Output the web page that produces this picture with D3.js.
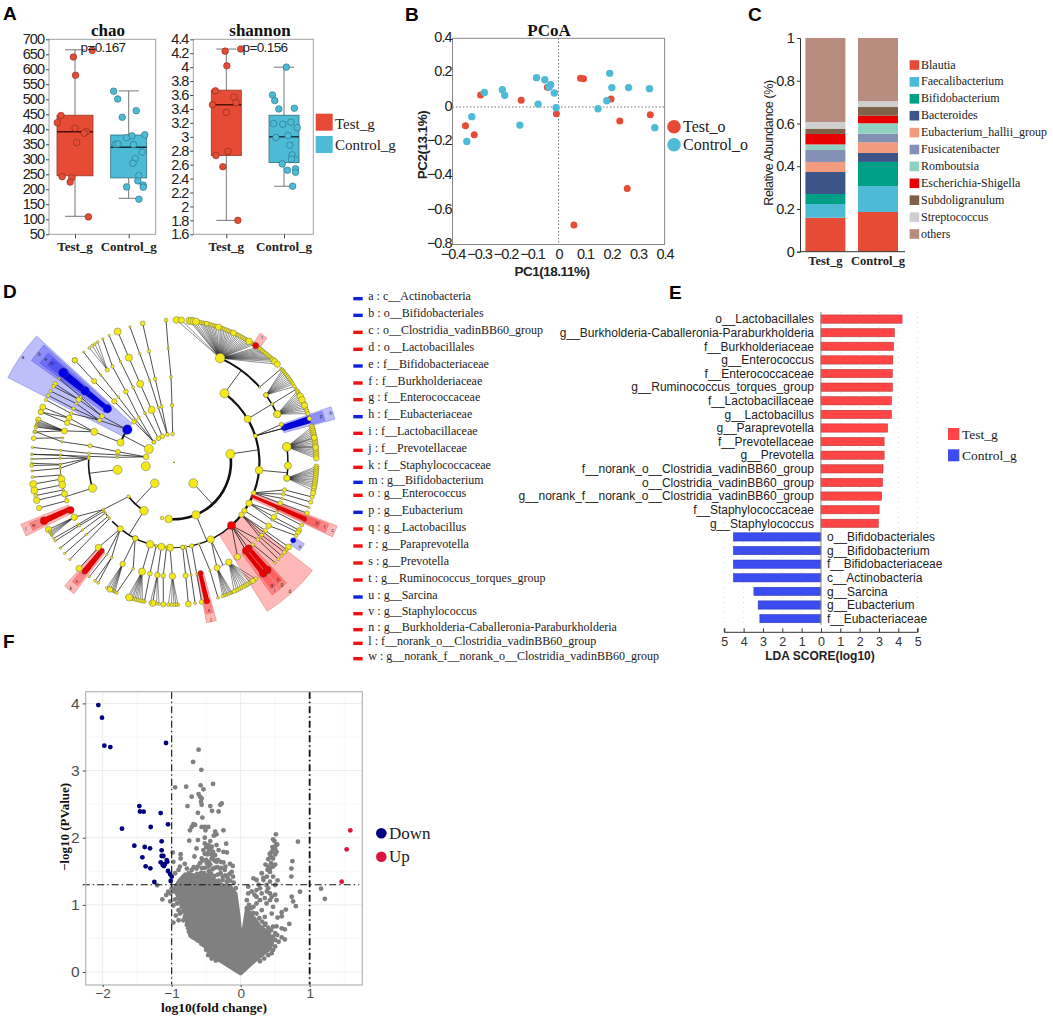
<!DOCTYPE html>
<html><head><meta charset="utf-8">
<script src="https://cdn.jsdelivr.net/npm/d3@7/dist/d3.min.js"></script>
<style>html,body{margin:0;padding:0;background:#fff}svg{display:block}</style>
</head><body><svg id="c" width="1053" height="1016"></svg>
<script>
// ---------- Panel A
const groups = ["Test_g","Control_g"];
const chaoTicks = [50,100,150,200,250,300,350,400,450,500,550,600,650,700];
const shannonTicks = [1.6,1.8,2,2.2,2.4,2.6,2.8,3,3.2,3.4,3.6,3.8,4,4.2,4.4];
const chaoBox = [[110,245,392,447,665],[170,238,340,381,528]];
const shannonBox = [[1.80,2.73,3.46,3.67,4.26],[2.29,2.63,3.0,3.31,4.0]];
const chaoTest = [[-.03,641],[.01,580],[.32,663],[-.26,446],[-.33,422],[0,404],[.21,392],[.17,387],[.03,356],[-.24,242],[-.06,239],[-.09,224],[.25,108]];
const chaoControl = [[-.28,527],[-.205,501],[.14,462],[-.12,440],[.3,382],[.06,378],[-.04,372],[-.25,350],[-.2,351],[.09,349],[.25,324],[.12,302],[.08,287],[.19,246],[.17,228],[.27,214],[-.04,208],[.27,207],[.19,167]];
const shannonTest = [[-.02,4.23],[.25,4.26],[.01,4.02],[-.19,3.66],[.13,3.57],[.17,3.49],[-.24,3.46],[0,3.35],[.03,2.79],[-.18,2.73],[-.06,2.57],[.2,1.80]];
const shannonControl = [[.04,4.0],[-.2,3.6],[-.16,3.52],[-.09,3.40],[.18,3.41],[-.18,3.19],[-.02,3.18],[.12,3.21],[.23,3.13],[-.14,2.99],[.07,3.02],[.1,2.88],[.14,2.74],[.2,2.67],[.13,2.68],[-.03,2.61],[.06,2.52],[.2,2.54],[.2,2.49],[.15,2.29]];
// ---------- Panel B
const pcoaTicksX = [-.4,-.3,-.2,-.1,0,.1,.2,.3,.4];
const pcoaTicksY = [-.8,-.6,-.4,-.2,0,.2,.4];
const pcoaTest = [[-.294,.07],[-.141,.039],[-.042,.115],[-.008,-.039],[.083,.167],[.094,.165],[.198,.047],[.231,-.082],[.346,-.045],[.259,-.474],[.058,-.687],[-.351,-.109],[-.318,-.161]];
const pcoaControl = [[-.28,.085],[-.212,.101],[-.203,.068],[-.083,.171],[-.052,.159],[-.03,.13],[-.036,.117],[-.016,.082],[-.077,.017],[-.009,-.004],[-.146,-.105],[-.327,-.056],[-.346,-.2],[.193,.196],[.201,.113],[.264,.113],[.343,.107],[.182,.037],[.149,-.01],[.363,-.12]];
// ---------- Panel C
const genera = ["Blautia","Faecalibacterium","Bifidobacterium","Bacteroides","Eubacterium_hallii_group","Fusicatenibacter","Romboutsia","Escherichia-Shigella","Subdoligranulum","Streptococcus","others"];
const generaColors = ["#E64B35","#4DBBD5","#00A087","#3C5488","#F39B7F","#8491B4","#91D1C2","#E60000","#7E6148","#CFCFCF","#B98C80"];
const abundTest = [.159,.064,.047,.103,.047,.056,.026,.049,.025,.031,.393];
const abundControl = [.186,.121,.113,.042,.05,.04,.049,.035,.041,.028,.295];
const abundTicks = [0,.2,.4,.6,.8,1];
// ---------- Panel D
const cladeLegend = [["a : c__Actinobacteria",0],["b : o__Bifidobacteriales",0],["c : o__Clostridia_vadinBB60_group",1],["d : o__Lactobacillales",1],["e : f__Bifidobacteriaceae",0],["f : f__Burkholderiaceae",1],["g : f__Enterococcaceae",1],["h : f__Eubacteriaceae",0],["i : f__Lactobacillaceae",1],["j : f__Prevotellaceae",1],["k : f__Staphylococcaceae",1],["m : g__Bifidobacterium",0],["o : g__Enterococcus",1],["p : g__Eubacterium",0],["q : g__Lactobacillus",1],["r : g__Paraprevotella",1],["s : g__Prevotella",1],["t : g__Ruminococcus_torques_group",1],["u : g__Sarcina",0],["v : g__Staphylococcus",1],["n : g__Burkholderia-Caballeronia-Paraburkholderia",1],["l : f__norank_o__Clostridia_vadinBB60_group",1],["w : g__norank_f__norank_o__Clostridia_vadinBB60_group",1]];
const cladeLegendRows = [35,85,136,187,237,288,338,389,439,490,541,586,625,676,726,777,828,879,930,980,1028,1069,1115];
const cladeSectors = [["a",297,312.6,2,6.55,0],["b",305.5,312,3,6.15,0],["e",306.5,311,4,5.85,0],["m",307.5,310.5,5,5.6,0],
["d",128,148,3,6.17,1],["g",137,139.9,4,5.8,1],["i",140.1,143.5,4,5.8,1],["o",137.5,139.5,5,5.6,1],["q",140.5,142.5,5,5.6,1],
["c",111.3,115.2,3,6.15,1],["f",111.8,114.8,4,5.85,1],["n",112.2,114.4,5,5.55,1],
["h",70.5,75,4,5.85,0],["p",71,74.5,5,5.5,0],["u",122,125.2,5,5.4,0],["t",33.7,36.8,5,5.45,1],
["j",165,168.5,4,5.75,1],["s",165.5,168,5,5.45,1],["k",217.3,221.5,4,5.8,1],["v",218,220.5,5,5.5,1],["l",243.5,248,4,5.8,1],["w",244.3,247.2,5,5.5,1]];
const cladeCores = [[307.2,310.3,3.05,5,0],[71,74,4,5,0],[112.4,114.3,3,5,1],[138,140,4,5,1],[140.3,142.3,4,5,1],[165.7,167.7,4,5,1],[218,220.5,4,5,1],[244.5,247,4,5,1]];
const cladeArcs = [[2,81.6,185.4,2.6],[2,211.8,233,1.8],[2,290.4,305,1.8],[3,36.2,137.7,2.2],[3,137.7,168,1.5],[3,168,196.3,.9],[3,196.3,226.4,1.6],[3,252.4,272.7,1.6],[3,230.7,236.3,.8],[4,23.9,48.7,2],[4,53.8,65,1.6],[4,82.2,98,1.5],[4,151.2,157.8,.5],[4,250.3,268.7,.6]];
const cladeStems = [[1,2,137.4],[2,3,81.6],[1,2,222.6],[1,2,297.8],[2,3,157.3],[2,3,262.6],[3,4,36.2],[3,4,95.3],[2,3,211.8],[3,4,252.4],[3,4,154.5]];
const cladeChains = [
[1,357.3,1.6,2,358,1.5,3,358,1.2,4,357.1,1,5,356.8,1.6],[1,346.6,1.6,2,347.5,1.4,3,347.3,1.5,4,347.3,1.5,5,347.3,2],
[1,346.6,0,2,344,1,3,343.5,1,4,342.5,1,5,342,1],[1,335.8,2,2,336.9,3,3,336.7,3,4,336.7,3,5,336.7,3],
[1,326.9,2,2,329.4,1.2,3,331.4,1.2,4,332,1,5,332.9,1],[1,315,1.6,2,322,1.2,3,325.8,2,4,327.3,1.5,5,330,1],
[1,315,1.6,2,315.5,2,3,315.6,2.2,4,315.5,2.2,5,315.8,2.2],[1,315,0,2,318,1,3,319.5,1,4,320,1,5,320.7,1],
[2,290.4,3,3,290.9,3,4,290.3,2.3,5,290.7,2.2],[2,305,0,3,302.6,2,4,303.4,2.2,5,303.4,2],[2,305,0,3,299.4,1.8,4,298.2,1.5,5,298,1.5],[3,299.4,0,4,295.4,1.5,5,296,1.5],
[3,302.6,0,4,305,1.2,5,306.2,1],[4,303.4,0,5,302.2,1.6],[3,299.4,0,4,301,1.2,5,300,1.4],
[3,290.9,0,4,292.9,2.5,5,292.8,2.5],[4,292.9,0,5,290.7,2.2],[3,290.9,0,4,286,2.5,5,287.5,2.2],[4,286,0,5,284.4,1.8],[4,286,0,5,282.3,1.8],[4,282.4,1,5,279.7,2],
[1,281,2.4,2,280.7,2,3,281.1,1.8,4,280.4,1,5,282.5,1],[1,281,0,2,277.5,1,3,276,1.2,4,276,1,5,276,1],[1,281,0,2,275,1,3,274,1,5,273.2,1],
[3,272.7,1.2,4,273.7,1,5,273.2,1],[3,272.7,0,4,272,1,5,271.3,1],[3,272.7,0,4,269,1,5,269.6,1],[3,272.7,0,4,267,1,5,266.5,1],
[4,268.7,1,5,268.7,1.6],[4,263.6,1,5,264,1.2],[4,261.5,3,5,261.2,3],[4,258.6,3,5,258.6,3],[4,256,1,5,256.5,1.5],[4,253.9,2.6,5,254.5,2.7],[4,250.3,2,5,251.3,2.3],
[2,233,0,3,236.3,1,4,237,1.2,5,237.7,1],[3,235,1,4,236.2,1.2,5,236.5,1],[3,233.5,1,4,233.5,1,5,233,1],[3,230.7,1,4,230.5,1,5,230.2,1],[3,229,1,5,227,1],[3,236.3,0,4,241.2,2.7,5,241.8,2.7],
[3,218.9,2.5,4,221.6,2.7,5,221.8,2.7],[3,218.9,0,4,216,1,5,216.5,1],[3,218.9,0,4,213.2,1.2,5,212.2,1.2],[4,213.2,0,5,213.7,1.2],[3,207,2.3,4,206.8,2.3],[3,207,0,4,201,1.2,5,203.7,1.4],
[3,196.3,3.2,4,196.3,3],[3,192,1.2,4,192.2,2,5,192,1.5],[3,188.5,3,4,188.4,2.3,5,188.6,2.8],[3,182.7,3,4,180.8,2.7],[3,185,1,4,185.4,2,5,184.3,2.2],
[3,174.2,1.8,4,174.1,2.2,5,174.2,2.4],[3,172.2,1.2,4,171.4,1,5,171.5,1.2],[3,168,1.8,4,168.5,1,5,168.8,2],[3,163,1,4,161.6,1,5,162,1.2],[3,154.5,3,4,157.8,2.6],
[3,137.7,0,4,146.1,2.6],[3,137.7,0,4,136.2,1.5,5,134.8,1.2],[3,137.7,0,4,132.6,1.5,5,132.9,1.3],
[3,111,2,4,106.2,1.5,5,106.2,1.8],[3,111,0,4,104,1.8,5,104.1,1.8],[3,111,0,4,108.5,1,5,108.5,1],[3,111,0,4,111,2,5,110.9,2],
[3,118.6,2.7,4,116,1.2,5,116.2,1.6],[3,118.6,0,4,118.7,2.4,5,118.5,2.2],[3,118.6,0,4,120.5,1,5,119.5,2],[3,124.5,2.3,4,123.8,2.3,5,121,1.6],
[3,127.8,2.3,4,126.8,2,5,126.5,2.5],[3,127.8,0,4,129.7,1.6,5,129.1,1.8],[3,127.8,0,4,128,1,5,127.8,1.2],[3,127.8,0,4,131,1,5,131,1.3],
[4,48.7,1,5,48.9,1.2],[3,59.5,3,4,59.3,1.3,5,59.1,1.3],[3,72,1.7,4,70.6,1.8],[3,72,0,4,72.7,0,5,72.1,2]];
const cladeRed = [[3,137.7,3.4],[4,139.1,3],[4,140.9,3],[5,139.1,3.3],[5,141.2,3.3],[3,113.4,1.3],[4,113.7,1.8],[5,113.5,2],[4,166.5,2.2],[5,166.7,2.5],[4,219.2,2],[5,219.3,1.5],[4,245.2,3],[5,245.8,3.3],[5,35,2.6]];
const cladeBlue = [[2,305,4],[3,308.8,3.6],[4,308.8,3.6],[5,309,4],[4,72.7,1.5],[5,123.2,2.2]];
const cladeFans = [
[4,23.9,4,1.7,[1,3,6.2,7,7.9,8.9,10.1,11,11.8,12.5,13.3,14,14.8,15.6,16.4,17.2,18.2,19,19.8,20.6,21.4,22.2,23,23.8,24.7,25.5,26.3,27,27.8,28.6,29.4,30.2,31,31.8,32.6,33.4,34.2,36,36.8,37.6,38.4,39.2,40,40.8,41.6,42.4,43.2,44,45,46.5]],
[4,53.8,2,1.5,[49.5,50.2,51,51.8,52.6,53.4,54.2,55,55.8,56.6,57.8]],
[4,65,3,1.8,[60,60.8,61.6,62.4,63.2,64,64.8,65.6,66.4,67.2,68,69,70]],
[4,82.2,3.6,2.3,[75.6,76.4,77.2,78,78.8,79.6,80.4,81.2,82,82.8,83.6,84.4,85.2,86,86.8,87.6,88.4]],
[4,98,2.6,2.1,[91.7,92.5,93.3,94,94.8,95.6,96.4,97.2,98,98.8,99.6,100.4,101.5]],
[4,157.8,0,1.3,[156,156.6,157.2,158,158.6,159.3,160]],
[4,151.2,2.7,1.8,[145,146.4,147.5,148.6,149.3,150.1,151,152,153,153.9,155]],
[4,196.3,0,1.6,[192.8,193.6,194.5,195.3,196,196.8,197.4,198.3,199]],
[4,206.8,0,1.1,[204.5,205,205.5,206,206.7,207.5,208.2]],
[4,188.4,0,1.2,[186,187,189.6]],[4,180.8,0,1.5,[178.4,179.2,180,181,182.3]],
[4,241.2,0,1,[239,239.5,240,240.5,241]],[4,286,0,1,[284.8,285.2,285.6,286,286.4,286.8]],[4,324.2,1.8,1.2,[327.6,326.2,325,323.5]],[4,82.2,0,2.4,[80,84]]];
const cladeTips = [[5,1,2.8],[5,3,2.6],[5,6.2,3],[5,7,3],[5,7.9,3],[5,8.9,3],[5,13.3,2],[5,18.2,2.6],[5,24.7,2.5],[5,31.8,2.8],[5,44,2.4],[5,45,2.6],[5,46.5,2.6],[5,62.4,2.8],[5,64,2.8],[5,66.4,2.6],[5,102.5,2.2],[5,198.3,3],[5,206.7,2.3],[5,146.4,2.2],[5,315.8,2.2],[2,81.6,3.8],[2,157.3,3.4],[2,185.4,3.2],[2,192.2,1.5],[1,137.4,3.8],[1,222.6,3.6],[1,262,3.8],[1,297.8,3.8],[2,262.4,3.8],[2,211.8,3.6],[2,233,1.5],[3,36.2,3.8],[3,95.3,3.2],[3,252.4,3.5],[3,207,2.3],[4,91.7,3],[4,82.2,3.6],[4,98,2.6],[4,65,3],[4,53.8,2],[3,174.2,1.8]];
// ---------- Panel E
const ldaTaxa = ["o__Lactobacillales","g__Burkholderia-Caballeronia-Paraburkholderia","f__Burkholderiaceae","g__Enterococcus","f__Enterococcaceae","g__Ruminococcus_torques_group","f__Lactobacillaceae","g__Lactobacillus","g__Paraprevotella","f__Prevotellaceae","g__Prevotella","f__norank_o__Clostridia_vadinBB60_group","o__Clostridia_vadinBB60_group","g__norank_f__norank_o__Clostridia_vadinBB60_group","f__Staphylococcaceae","g__Staphylococcus","o__Bifidobacteriales","g__Bifidobacterium","f__Bifidobacteriaceae","c__Actinobacteria","g__Sarcina","g__Eubacterium","f__Eubacteriaceae"];
const ldaScores = [4.2,3.8,3.76,3.72,3.7,3.7,3.65,3.65,3.45,3.27,3.27,3.21,3.19,3.14,3.01,2.97,-4.53,-4.53,-4.53,-4.53,-3.47,-3.25,-3.16];
const ldaTicks = [-5,-4,-3,-2,-1,0,1,2,3,4,5];
// ---------- Panel F
const volcDown = [[-2.063,3.975],[-2.01,3.787],[-1.976,3.37],[-1.889,3.35],[-1.082,3.41],[-1.469,2.47],[-1.459,2.39],[-1.406,2.387],[-1.159,2.367],[-1.053,2.199],[-1.72,2.134],[-1.304,2.159],[-1.541,1.881],[-1.391,1.861],[-1.314,1.841],[-1.145,1.945],[-1.145,1.811],[-1.425,1.707],[-1.145,1.727],[-1.121,1.727],[-1.377,1.573],[-1.309,1.543],[-1.159,1.633],[-1.072,1.667],[-1.063,1.643],[-1.097,1.608],[-1.13,1.593],[-1.111,1.578],[-1.053,1.504],[-1.024,1.459],[-1,1.419],[-1.014,1.355],[-1.251,1.34]];
const volcUp = [[1.589,2.109],[1.536,1.826],[1.464,1.345]];
const volcMass = [[0,-.04],[-.3,.155],[-.445,.24],[-.54,.4],[-.735,.525],[-.78,.7],[-.82,.875],[-.88,1.02],[-.975,1.245],[-.9,1.37],[-.83,1.45],[-.64,1.42],[-.49,1.45],[-.4,1.4],[-.25,1.3],[-.155,1.3],[-.06,1.17],[-.02,.87],[.015,.525],[.08,.97],[.23,.775],[.28,.7],[.425,.575],[.47,.43],[.425,.33],[.18,.13],[0,-.04]];
const volcGrey = [[-.61,3.31],[-.69,3.13],[-.57,3.01],[-.4,2.8],[-.58,2.78],[-.54,2.72],[-.95,2.75],[-.79,2.76],[-.71,2.61],[-.61,2.65],[-.59,2.61],[-.565,2.585],[-.575,2.535],[-.565,2.49],[-.77,2.47],[-.44,2.47],[-.415,2.4],[-.32,2.39],[-.275,2.51],[-.295,2.49],[-.62,2.37],[-.555,2.3],[-.685,2.2],[-.71,2.16],[-.735,2.11],[-.66,2.19],[-.565,2.16],[-.52,2.16],[-.47,2.16],[-.51,2.11],[-.25,2.11],[-.37,2.09],[-.35,2.05],[-.39,2.03],[-.52,2],[-.745,1.955],[-.62,1.965],[-.52,1.915],[-.47,1.89],[-.42,1.865],[-.35,1.89],[-.21,1.91],[-.64,1.84],[-.54,1.815],[-.4,1.79],[-.32,1.815],[-.25,1.79],[-.2,1.78],[-.985,1.78],[-.87,1.755],[-.975,1.64],[-.87,1.69],[-.67,1.72],[-.565,1.69],[-.42,1.69],[-.35,1.64],[-.25,1.63],[-.155,1.61],[-.115,1.58],[-.13,1.49],[-.23,1.52],[-.3,1.54],[-.59,1.62],[-.49,1.62],[-.81,1.61],[-.88,1.57],[-.9,1.52],[-.95,1.47],[-.78,1.54],[-.71,1.52],[-.64,1.54],[-.48,1.75],[-.44,1.6],[-.38,1.55],[-.52,1.55],[-.46,1.5],[-.57,1.48],[-.72,1.45],[-.33,1.45],[-.26,1.42],[-.19,1.4],[-.4,1.72],[-.47,1.78],[-.44,1.95],[-.975,.735],[-.94,.84],[-.88,.87],[-.9,.92],[-.855,.97],[-.975,.99],[-.95,1.08],[-1.135,1.08],[-1.08,1.145],[-1.05,1.195],[-1,1.245],[-1.21,1.29],[-1.02,1.17],[-.97,1.2],[-.83,1.07],[-.9,.77],[-.83,.77],[-.79,.92],[-.81,.82],[-.76,.65],[-.73,.55],[-.54,.4],[-.49,.37],[-.42,.24],
[-.5,1.86],[-.46,1.84],[-.43,1.83],[-.52,1.76],[-.44,1.76],[-.37,1.74],[-.55,1.66],[-.5,1.67],[-.46,1.64],[-.38,1.66],[-.33,1.67],[-.29,1.64],[-.68,1.56],[-.62,1.57],[-.56,1.55],[-.47,1.57],[-.41,1.53],[-.34,1.56],[-.28,1.55],[-.22,1.57],[-.8,1.45],[-.75,1.47],[-.69,1.44],[-.63,1.46],[-.58,1.43],[-.53,1.47],[-.48,1.44],[-.43,1.46],[-.38,1.43],[-.29,1.47],[-.22,1.44],[-.16,1.46],[-.11,1.42],[-.85,1.36],[-.74,1.38],[-.62,1.36],[-.5,1.38],[-.44,1.36],[-.32,1.36],[-.26,1.37],[-.2,1.34],[-.15,1.36],[-.1,1.33],[-.07,1.25],[-.93,1.2],[-.88,1.15],[-.85,1.1],[-.84,.9],[-.8,.8],[-.78,.7],[-.75,.6],[-.7,.52],[-.62,.47],[-.57,.42],[-.5,.33],[-.47,.25],[-.42,.2],[-.36,.17],[-1.02,1.05],[-.92,1.02],
[.51,2.05],[.47,1.975],[.51,1.89],[.53,1.9],[.5,1.84],[.47,1.81],[.45,1.79],[.52,1.79],[.435,1.72],[.47,1.69],[.83,1.94],[.75,1.65],[.735,1.54],[.735,1.42],[.4,1.57],[.47,1.57],[.39,1.52],[.305,1.47],[.425,1.49],[.47,1.42],[.535,1.365],[.23,1.37],[.185,1.395],[.33,1.37],[.425,1.345],[.5,1.295],[.375,1.295],[.28,1.245],[.4,1.245],[.11,1.27],[.23,1.22],[.305,1.17],[.23,1.12],[.28,1.07],[.425,1.07],[.52,1.07],[.375,1.02],[.47,.97],[.185,.97],[.09,.95],[.23,.87],[.35,.82],[.45,.87],[.655,.93],[.595,.89],[.535,.81],[.595,.83],[.705,.715],[.64,.635],[.595,.65],[.47,.675],[.47,.525],[.53,.55],[.595,.515],[.64,.485],[.5,.475],[.47,.33],[.4,.43],[.33,.525],[.23,.675],[.18,.77],[.11,.87],[.74,1.12],[.76,1.05],[.8,.98],[.86,1.195],[1.165,1.24],[1.22,1.09],[.11,1.17],[.23,1.02],[.305,.92],[.09,1.07],[.425,1.17],[.35,.7],[.42,.62],[.52,.68],[.3,.6],[.38,.52],
[.1,.9],[.13,.85],[.16,.82],[.2,.72],[.25,.65],[.3,.62],[.36,.55],[.12,1.0],[.15,.95],[.18,.88],[.27,.8],[.31,.75],[.36,.72],[.4,.66],[.44,.62],[.5,.58],[.55,.45],[.5,.38],[.45,.28],[.4,.25],[.34,.2],[.28,.16],[.16,1.2],[.2,1.15],[.26,1.3],[.35,1.1],[.38,1.2],[.45,1.12],[.5,1.15],[.33,1.4],[.38,1.42],[.43,1.55],[.36,1.6],[.44,1.62],[.4,1.68],[.5,1.6],[.5,1.75],[.42,1.76],[.46,1.86],[.49,1.95]];
const volcXTicks = [-2,-1,0,1];
const volcYTicks = [0,1,2,3,4];

// ================== drawing
const SANS = "'Liberation Sans',Arial,sans-serif", SERIF = "'Liberation Serif','Times New Roman',serif";
const RED = "#E64B35", CYAN = "#4DBBD5";
const svg = d3.select("#c");
function txt(g,x,y,s,o={}){
  const t=g.append("text").attr("x",x).attr("y",y).text(s)
    .attr("font-family",o.f||SANS).attr("font-size",o.s||12).attr("fill",o.c||"#111")
    .attr("text-anchor",o.a||"start");
  if(o.b) t.attr("font-weight","bold");
  if(o.ls!=null) t.attr("letter-spacing",o.ls);
  if(o.r!=null) t.attr("transform",`rotate(${o.r} ${x} ${y})`);
  return t;
}
[["A",3,20],["B",405,21],["C",748,21],["D",3,298],["E",669,299],["F",3,648]].forEach(d=>txt(svg,d[1],d[2],d[0],{s:19,b:1,c:"#000"}));

// ---- A
function boxPanel(cfg){
  const g=svg.append("g");
  const y=d3.scaleLinear().domain(cfg.dom).range([234.3,39.3]);
  const x=d3.scalePoint().domain(groups).range(cfg.cx);
  g.append("rect").attr("x",cfg.l).attr("y",39.3).attr("width",cfg.r-cfg.l).attr("height",195).attr("fill","none").attr("stroke","#a0a0a0").attr("stroke-width",1);
  const ax=g.append("g").attr("transform",`translate(${cfg.l},0)`).call(d3.axisLeft(y).tickValues(cfg.ticks).tickSize(3).tickFormat(d=>String(d)));
  ax.select(".domain").remove();
  ax.selectAll("line").attr("stroke","#444");
  ax.selectAll("text").attr("font-family",SANS).attr("font-size",14.5).attr("letter-spacing",-1).attr("fill","#222").attr("dx",1);
  const bx=g.append("g").attr("transform","translate(0,234.3)").call(d3.axisBottom(x).tickSize(4).tickFormat(""));
  bx.select(".domain").remove(); bx.selectAll("line").attr("stroke","#444");
  groups.forEach((gr,i)=>{
    txt(g,x(gr),251,gr,{f:SERIF,b:1,s:13,a:"middle",c:"#222"});
    const b=cfg.box[i], c=x(gr), col=i?CYAN:RED, st=i?"#2f6f80":"#8f3a2a", hw=cfg.hw;
    g.append("line").attr("x1",c).attr("x2",c).attr("y1",y(b[0])).attr("y2",y(b[4])).attr("stroke","#777").attr("stroke-width",1);
    [b[0],b[4]].forEach(v=>g.append("line").attr("x1",c-10).attr("x2",c+10).attr("y1",y(v)).attr("y2",y(v)).attr("stroke","#777"));
    g.append("rect").attr("x",c-hw).attr("y",y(b[3])).attr("width",hw*2).attr("height",y(b[1])-y(b[3])).attr("fill",col).attr("stroke",st).attr("stroke-width",.8);
    g.append("line").attr("x1",c-hw).attr("x2",c+hw).attr("y1",y(b[2])).attr("y2",y(b[2])).attr("stroke",i?"#10303a":"#4a0d05").attr("stroke-width",1.4);
    g.selectAll(null).data(cfg.pts[i]).join("circle").attr("cx",d=>c+d[0]*x.step()).attr("cy",d=>y(d[1])).attr("r",3.3)
      .attr("fill",col).attr("stroke",i?"#2a6b7e":"#7a2b1c").attr("stroke-width",.6);
  });
  txt(g,cfg.tx,36,cfg.title,{f:SERIF,b:1,s:17,a:"middle",c:"#111"});
  txt(g,cfg.px,52,cfg.p,{s:13.5,ls:-.6,a:"middle",c:"#222"});
}
boxPanel({l:49,r:155.7,cx:[75,128.7],hw:18,dom:[50,700],ticks:chaoTicks,box:chaoBox,pts:[chaoTest,chaoControl],title:"chao",p:"p=0.167",tx:108,px:103});
boxPanel({l:193.3,r:313.3,cx:[226.3,284],hw:15,dom:[1.6,4.4],ticks:shannonTicks,box:shannonBox,pts:[shannonTest,shannonControl],title:"shannon",p:"p=0.156",tx:260,px:265});
[["Test_g",RED,113.7,129],["Control_g",CYAN,136,150]].forEach(d=>{
  svg.append("rect").attr("x",315.7).attr("y",d[2]).attr("width",17).attr("height",17).attr("fill",d[1]);
  txt(svg,335,d[3],d[0],{f:SERIF,s:15,c:"#222"});
});

// ---- B
(function(){
  const g=svg.append("g");
  const x=d3.scaleLinear().domain([-.4,.4]).range([452.5,664.6]), y=d3.scaleLinear().domain([-.8,.4]).range([244.5,38.3]);
  g.append("rect").attr("x",452.5).attr("y",38.3).attr("width",212.1).attr("height",206.2).attr("fill","none").attr("stroke","#888");
  g.append("line").attr("x1",x(0)).attr("x2",x(0)).attr("y1",38.3).attr("y2",244.5).attr("stroke","#777").attr("stroke-dasharray","1.5 2");
  g.append("line").attr("y1",y(0)).attr("y2",y(0)).attr("x1",452.5).attr("x2",664.6).attr("stroke","#777").attr("stroke-dasharray","1.5 2");
  const ax=g.append("g").attr("transform","translate(452.5,0)").call(d3.axisLeft(y).tickValues(pcoaTicksY).tickSize(0).tickFormat(d=>d===0?"0":d3.format(".1f")(d)));
  const bx=g.append("g").attr("transform","translate(0,244.5)").call(d3.axisBottom(x).tickValues(pcoaTicksX).tickSize(0).tickFormat(d=>d===0?"0":d3.format(".1f")(d)));
  [ax,bx].forEach(a=>{a.select(".domain").remove();a.selectAll("text").attr("font-family",SANS).attr("font-size",14.5).attr("letter-spacing",-1).attr("fill","#222");});
  ax.selectAll("text").attr("dx",2).attr("y",-1.5); bx.selectAll("text").attr("y",4.5);
  g.selectAll(null).data(pcoaTest).join("circle").attr("cx",d=>x(d[0])).attr("cy",d=>y(d[1])).attr("r",3.5).attr("fill",RED);
  g.selectAll(null).data(pcoaControl).join("circle").attr("cx",d=>x(d[0])).attr("cy",d=>y(d[1])).attr("r",3.7).attr("fill",CYAN);
  txt(g,549,36,"PCoA",{f:SERIF,b:1,s:17,a:"middle"});
  txt(g,552,276,"PC1(18.11%)",{b:1,s:13.5,a:"middle",ls:-.5,c:"#222"});
  txt(g,427,145,"PC2(13.1%)",{b:1,s:13.5,a:"middle",ls:-.5,r:-90,c:"#222"});
  [["Test_o",RED,126.7,132],["Control_o",CYAN,144.7,150]].forEach(d=>{
    g.append("circle").attr("cx",674).attr("cy",d[2]).attr("r",6.8).attr("fill",d[1]);
    txt(g,683,d[3],d[0],{f:SERIF,s:16,c:"#222"});
  });
})();

// ---- C
(function(){
  const g=svg.append("g");
  const y=d3.scaleLinear().domain([0,1]).range([251.7,38]);
  const x=d3.scaleBand().domain(groups).range([805.4,898]).paddingInner(.24);
  const st=d3.stack().keys(genera);
  const tb=groups.map((gr,k)=>{const o={group:gr};genera.forEach((n,i)=>o[n]=(k?abundControl:abundTest)[i]);return o;});
  st(tb).forEach((s,i)=>{
    g.selectAll(null).data(s).join("rect").attr("x",d=>x(d.data.group)).attr("width",x.bandwidth())
      .attr("y",d=>y(d[1])).attr("height",d=>y(d[0])-y(d[1])).attr("fill",generaColors[i]);
  });
  g.append("line").attr("x1",800).attr("x2",905).attr("y1",251.7).attr("y2",251.7).attr("stroke","#333");
  const ax=g.append("g").attr("transform","translate(800,0)").call(d3.axisLeft(y).tickValues(abundTicks).tickSize(3).tickFormat(d=>String(d)));
  ax.selectAll("text").attr("font-family",SANS).attr("font-size",14.5).attr("letter-spacing",-.8).attr("fill","#222");
  ax.select(".domain").attr("stroke","#333"); ax.selectAll("line").attr("stroke","#333");
  groups.forEach(gr=>txt(g,x(gr)+x.bandwidth()/2,265,gr,{f:SERIF,b:1,s:12.5,a:"middle",c:"#222"}));
  txt(g,773,143,"Relative Abundance (%)",{s:12.5,a:"middle",ls:-.4,r:-90,c:"#222"});
  genera.forEach((n,i)=>{
    const yy=65+i*16.9;
    g.append("rect").attr("x",909.6).attr("y",yy-4.8).attr("width",9.6).attr("height",9.6).attr("fill",generaColors[i]);
    txt(g,921,yy+3.5,n,{f:SERIF,s:12,c:"#222"});
  });
})();

// ---- D
(function(){
  const g=svg.append("g").attr("transform","translate(174,462.3)");
  const rad=d3.scaleLinear().domain([0,5]).range([0,142.4]);
  const ang=d3.scaleLinear().domain([0,360]).range([0,2*Math.PI]);
  const size=d3.scaleLinear().domain([0,1]).range([0,1.2]);
  const pt=(l,a)=>d3.pointRadial(ang(a),rad(l));
  const sector=(a0,a1,l0,l1)=>d3.arc().innerRadius(rad(l0)).outerRadius(rad(l1)).startAngle(ang(a0)).endAngle(ang(a1))();
  const YEL="#f2e81c";
  cladeSectors.forEach(s=>{
    g.append("path").attr("d",sector(s[1],s[2],s[3],s[4]))
      .attr("fill",s[5]?"rgba(255,20,20,.3)":"rgba(20,20,240,.28)")
      .attr("stroke",s[5]?"rgba(200,40,40,.55)":"rgba(40,40,200,.55)").attr("stroke-width",.5);
    const p=pt(s[4]-.09,(s[1]+s[2])/2);
    g.append("text").attr("x",p[0]).attr("y",p[1]).text(s[0]).attr("font-family",SANS).attr("font-size",4.5).attr("text-anchor","middle").attr("dy","0.35em").attr("fill","#222");
  });
  const lines=g.append("g").attr("stroke","#222").attr("fill","none");
  const seg=(p,q,w)=>lines.append("line").attr("x1",p[0]).attr("y1",p[1]).attr("x2",q[0]).attr("y2",q[1]).attr("stroke-width",w);
  cladeStems.forEach(s=>seg(pt(s[0],s[2]),pt(s[1],s[2]),.8));
  const nodes=[];
  cladeChains.forEach(c=>{
    for(let i=0;i<c.length;i+=3){
      if(c[i+2]>0) nodes.push([c[i],c[i+1],c[i+2],YEL]);
      if(i+3<c.length) seg(pt(c[i],c[i+1]),pt(c[i+3],c[i+4]),.8);
    }
  });
  cladeFans.forEach(f=>{
    if(f[2]>0) nodes.push([f[0],f[1],f[2],YEL]);
    f[4].forEach(a=>{seg(pt(f[0],f[1]),pt(5,a),.5);nodes.push([5,a,f[3],YEL]);});
  });
  cladeTips.forEach(t=>nodes.push([t[0],t[1],t[2],YEL]));
  [[3,137.7,4,139.1],[3,137.7,4,140.9],[3,72,4,72.7]].forEach(l=>seg(pt(l[0],l[1]),pt(l[2],l[3]),.9));
  cladeArcs.forEach(a=>{
    const w=a[3], r=rad(a[0]);
    g.append("path").attr("d",d3.arc().innerRadius(r-w/2).outerRadius(r+w/2).startAngle(ang(a[1])).endAngle(ang(a[2]))()).attr("fill","#111");
  });
  cladeCores.forEach(c=>g.append("path").attr("d",sector(c[0],c[1],c[2],c[3])).attr("fill",c[4]?"#e00000":"#0000d8"));
  cladeRed.forEach(t=>nodes.push([t[0],t[1],t[2],"#ee0000"]));
  cladeBlue.forEach(t=>nodes.push([t[0],t[1],t[2],"#0000e6"]));
  g.selectAll(null).data(nodes).join("circle").attr("cx",d=>pt(d[0],d[1])[0]).attr("cy",d=>pt(d[0],d[1])[1]).attr("r",d=>size(d[2]))
    .attr("fill",d=>d[3]).attr("stroke","#555").attr("stroke-width",.4);
  g.append("circle").attr("r",.9).attr("fill","#8a8420");
  cladeLegend.forEach((d,i)=>{
    const yy=285+cladeLegendRows[i]/3;
    svg.append("rect").attr("x",353.3).attr("y",yy+.3).attr("width",9.4).attr("height",3.4).attr("fill",d[1]?"#ee1111":"#1122dd");
    txt(svg,368.3,yy+3.5,d[0],{f:SERIF,s:12,c:"#222"});
  });
})();

// ---- E
(function(){
  const g=svg.append("g");
  const x=d3.scaleLinear().domain([-5,5]).range([724.3,917.6]);
  const y=d3.scaleBand().domain(ldaTaxa).range([312.2,625.5]).paddingInner(.39).paddingOuter(.2);
  ldaTicks.forEach(t=>{ if(t) g.append("line").attr("x1",x(t)).attr("x2",x(t)).attr("y1",312).attr("y2",625).attr("stroke","#ccc").attr("stroke-width",.7).attr("stroke-dasharray","1 4");});
  g.selectAll(null).data(ldaTaxa).join("rect").attr("x",(d,i)=>x(Math.min(0,ldaScores[i]))).attr("width",(d,i)=>Math.abs(x(ldaScores[i])-x(0)))
    .attr("y",d=>y(d)).attr("height",y.bandwidth()).attr("fill",(d,i)=>ldaScores[i]>0?"#FF4545":"#3B4CF0").attr("stroke",(d,i)=>ldaScores[i]>0?"#a33":"#2a35a8").attr("stroke-width",.5);
  g.append("line").attr("x1",x(0)).attr("x2",x(0)).attr("y1",312).attr("y2",625).attr("stroke","#888").attr("stroke-width",1);
  ldaTaxa.forEach((t,i)=>{
    const c=y(t)+y.bandwidth()/2+4.2;
    if(ldaScores[i]>0) txt(g,814,c,t,{s:12,a:"end",c:"#222"});
    else txt(g,827,c,t,{s:12,c:"#222"});
  });
  const ax=g.append("g").attr("transform","translate(0,632.3)").call(d3.axisBottom(x).tickValues(ldaTicks).tickSize(-4).tickPadding(5).tickFormat(d=>Math.abs(d)));
  ax.select(".domain").attr("stroke","#333").attr("d",`M${x(-5)},-4V0H${x(5)}V-4`);
  ax.selectAll("line").attr("stroke","#333");
  ax.selectAll("text").attr("font-family",SANS).attr("font-size",12.5).attr("fill","#333");
  txt(g,820,660,"LDA SCORE(log10)",{b:1,s:12,a:"middle",c:"#222"});
  [["Test_g","#FF4545",428,438.5],["Control_g","#3B4CF0",449.3,459.5]].forEach(d=>{
    g.append("rect").attr("x",948).attr("y",d[2]).attr("width",11.3).attr("height",12).attr("fill",d[1]);
    txt(g,962,d[3],d[0],{f:SERIF,s:13.5,c:"#222"});
  });
})();

// ---- F
(function(){
  const g=svg.append("g");
  const L=85.7,R=362.3,T=691.7,B=985;
  const x=d3.scaleLinear().domain([-2.246,1.763]).range([L,R]), y=d3.scaleLinear().domain([-.194,4.174]).range([B,T]);
  [-1.5,-.5,.5,1.5].forEach(t=>g.append("line").attr("x1",x(t)).attr("x2",x(t)).attr("y1",T).attr("y2",B).attr("stroke","#f5f5f5").attr("stroke-width",.7));
  [.5,1.5,2.5,3.5].forEach(t=>g.append("line").attr("y1",y(t)).attr("y2",y(t)).attr("x1",L).attr("x2",R).attr("stroke","#f5f5f5").attr("stroke-width",.7));
  volcXTicks.forEach(t=>g.append("line").attr("x1",x(t)).attr("x2",x(t)).attr("y1",T).attr("y2",B).attr("stroke","#ececec"));
  volcYTicks.forEach(t=>g.append("line").attr("y1",y(t)).attr("y2",y(t)).attr("x1",L).attr("x2",R).attr("stroke","#ececec"));
  g.append("path").attr("d",d3.line().x(d=>x(d[0])).y(d=>y(d[1]))(volcMass)).attr("fill","#808080").attr("stroke","#808080").attr("stroke-width",2).attr("stroke-linejoin","round");
  g.selectAll(null).data(volcGrey).join("circle").attr("cx",d=>x(d[0])).attr("cy",d=>y(d[1])).attr("r",2.4).attr("fill","#808080");
  g.selectAll(null).data(volcDown).join("circle").attr("cx",d=>x(d[0])).attr("cy",d=>y(d[1])).attr("r",2.4).attr("fill","#000080");
  g.selectAll(null).data(volcUp).join("circle").attr("cx",d=>x(d[0])).attr("cy",d=>y(d[1])).attr("r",2.4).attr("fill","#DC143C");
  [[-1,1.1],[1,1.8]].forEach(d=>g.append("line").attr("x1",x(d[0])).attr("x2",x(d[0])).attr("y1",T).attr("y2",B).attr("stroke","#111").attr("stroke-width",d[1]).attr("stroke-dasharray","7 3 1.5 3"));
  g.append("line").attr("x1",L-3).attr("x2",R-3).attr("y1",y(1.3)).attr("y2",y(1.3)).attr("stroke","#111").attr("stroke-width",1.1).attr("stroke-dasharray","7 3 1.5 3");
  g.append("rect").attr("x",L).attr("y",T).attr("width",R-L).attr("height",B-T).attr("fill","none").attr("stroke","#b5b5b5").attr("stroke-width",1.2);
  const ax=g.append("g").attr("transform",`translate(0,${B})`).call(d3.axisBottom(x).tickValues(volcXTicks).tickSize(2).tickPadding(1).tickFormat(d=>d<0?"\u2212"+(-d):d));
  const ay=g.append("g").attr("transform",`translate(${L},0)`).call(d3.axisLeft(y).tickValues(volcYTicks).tickSize(3).tickPadding(3).tickFormat(d3.format("d")));
  [ax,ay].forEach(a=>{a.select(".domain").remove();a.selectAll("line").attr("stroke","#444");a.selectAll("text").attr("font-family",SANS).attr("fill","#4d4d4d");});
  ax.selectAll("text").attr("font-size",13.5); ay.selectAll("text").attr("font-size",15.5);
  txt(g,214,1012,"log10(fold change)",{f:SERIF,b:1,s:13.5,a:"middle",c:"#111"});
  txt(g,69,827,"\u2212log10 (PValue)",{f:SERIF,b:1,s:13,a:"middle",r:-90,c:"#111"});
  [["Down","#000080",833.3,838.5],["Up","#DC143C",856.7,862]].forEach(d=>{
    g.append("circle").attr("cx",381.3).attr("cy",d[2]).attr("r",5.3).attr("fill",d[1]);
    txt(g,389,d[3],d[0],{f:SERIF,s:17,c:"#222"});
  });
})();
</script></body></html>
